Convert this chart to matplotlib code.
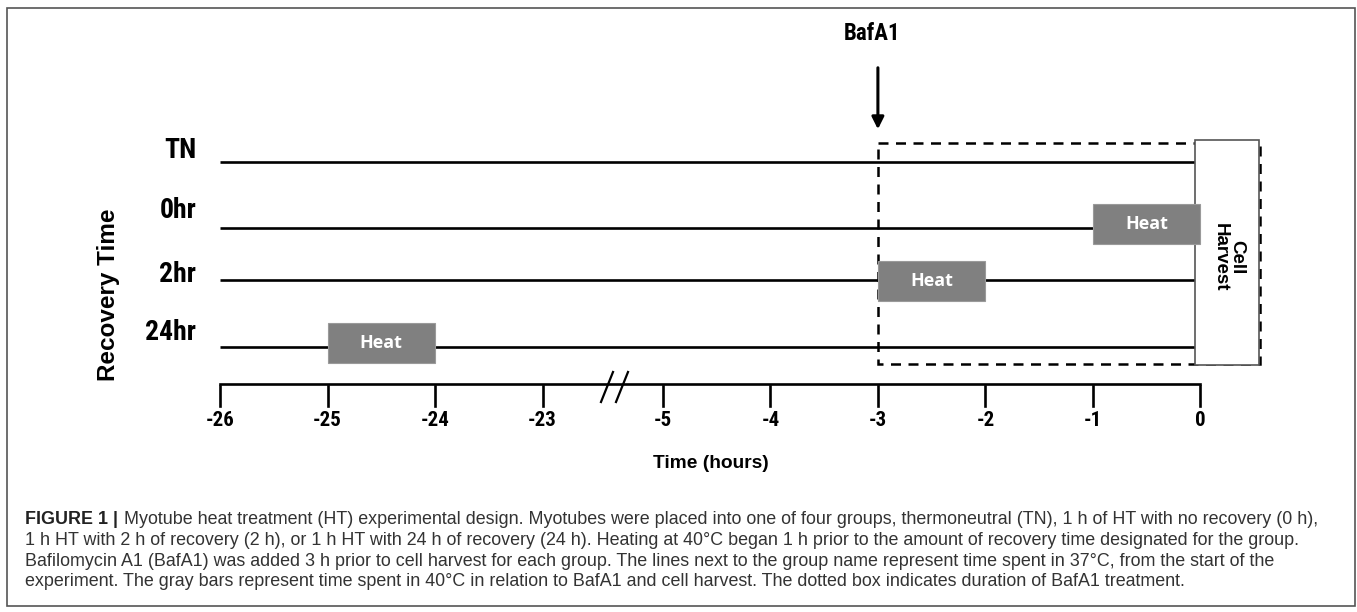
import matplotlib
matplotlib.use("Agg")
import matplotlib.pyplot as plt
from matplotlib.patches import Rectangle

# data
groups = ["TN", "0hr", "2hr", "24hr"]
heat_start = [None, -1, -3, -25]      # hours, heat lasts 1 h
heat_len = 1
tick_hours = [-26, -25, -24, -23, -5, -4, -3, -2, -1, 0]
bafa1_time = -3
harvest_time = 0
caption_lines = [
    "Myotube heat treatment (HT) experimental design. Myotubes were placed into one of four groups, thermoneutral (TN), 1 h of HT with no recovery (0 h),",
    "1 h HT with 2 h of recovery (2 h), or 1 h HT with 24 h of recovery (24 h). Heating at 40\u00b0C began 1 h prior to the amount of recovery time designated for the group.",
    "Bafilomycin A1 (BafA1) was added 3 h prior to cell harvest for each group. The lines next to the group name represent time spent in 37\u00b0C, from the start of the",
    "experiment. The gray bars represent time spent in 40\u00b0C in relation to BafA1 and cell harvest. The dotted box indicates duration of BafA1 treatment.",
]

# layout (y in pixels from top)
row_y = [162, 228, 280, 347]
label_y = [151, 210, 275, 332]
axis_y = 384
break_after = 3      # axis is broken between -23 and -5
gap = 0.12
px_per_slot = 107.5
x0_px = 220

narrow = ["Roboto Condensed", "DejaVu Sans"]
arial = ["Liberation Sans", "DejaVu Sans"]


def hx(h):
    i = tick_hours.index(h)
    return i + (gap if i > break_after else 0)


W, H = 1357, 612
fig = plt.figure(figsize=(W / 100, H / 100), dpi=100)
ax = fig.add_axes([0, 0, 1, 1])
ax.set_xlim(-x0_px / px_per_slot, (W - x0_px) / px_per_slot)
ax.set_ylim(H, 0)
ax.axis("off")
s = 1 / px_per_slot  # one pixel in x units

# outer frame
ax.add_patch(Rectangle((-213 * s, 8), 1348 * s, 598, fill=False, ec="#555555", lw=1.2))

x_start, x_end = hx(tick_hours[0]), hx(harvest_time)

# BafA1 dashed box and cell harvest box
bx = hx(bafa1_time)
ax.add_patch(Rectangle((bx, 143), x_end - bx + 60 * s, 221, fill=False, ec="black",
                       lw=1.8, ls=(0, (4, 3)), zorder=2))
ax.add_patch(Rectangle((x_end - 5 * s, 140), 64 * s, 225, fc="white", ec="#555555",
                       lw=1.2, zorder=3))
ax.text(x_end + 28 * s, 257, "Cell\nHarvest", rotation=-90, ha="center", va="center",
        fontsize=13.5, fontweight="bold", family=arial, linespacing=0.95, zorder=4)

# group lines, labels and heat bars
for g, y, ly, hs in zip(groups, row_y, label_y, heat_start):
    ax.plot([x_start, x_end], [y, y], color="black", lw=1.9, solid_capstyle="butt", zorder=1)
    ax.text(x_start - 24 * s, ly, g, ha="right", va="center", fontsize=20,
            fontweight="bold", family=narrow)
    if hs is not None:
        a, b = hx(hs), hx(hs + heat_len)
        yc = y - 4 if g != "2hr" else y + 1
        ax.add_patch(Rectangle((a, yc - 20), b - a, 40, fc="#808080", ec="#9a9a9a",
                               lw=0.8, zorder=5))
        ax.text((a + b) / 2, yc, "Heat", color="white", ha="center", va="center",
                fontsize=13, fontweight="bold", family=["Open Sans", "DejaVu Sans"], zorder=6)

ax.text(-112 * s, 295, "Recovery Time", rotation=90, ha="center", va="center",
        fontsize=17.5, fontweight="bold", family=arial)

# time axis
ax.plot([x_start, x_end], [axis_y, axis_y], color="black", lw=1.9, zorder=1)
for h in tick_hours:
    ax.plot([hx(h), hx(h)], [axis_y + 2, axis_y + 22], color="black", lw=1.9)
    ax.text(hx(h), axis_y + 36, str(h), ha="center", va="center", fontsize=15,
            fontweight="bold", family=narrow)
bk = break_after + 0.6
for d in (0, 15 * s):
    ax.plot([bk + d - 6 * s, bk + d + 6 * s], [axis_y + 18, axis_y - 12], color="black", lw=1.6)
ax.text(hx(-5) + 48 * s, 464, "Time (hours)", ha="center", va="center", fontsize=13.8,
        fontweight="bold", family=arial)

# BafA1 arrow
ax.annotate("", xy=(bx, 132), xytext=(bx, 65),
            arrowprops=dict(arrowstyle="-|>", color="black", lw=2.2, mutation_scale=18))
ax.text(bx - 6 * s, 34, "BafA1", ha="center", va="center", fontsize=16.5,
        fontweight="bold", family=narrow)

# caption
cap_x = -195 * s
cap_size = 12.9
head = ax.text(cap_x, 520, "FIGURE 1 |", ha="left", va="center", fontsize=cap_size,
               fontweight="bold", family=arial, color="#222222")
ax.annotate(caption_lines[0], xy=(1, 0.5), xycoords=head, xytext=(4, 0),
            textcoords="offset points", ha="left", va="center",
            fontsize=cap_size, family=arial, color="#333333")
for k, line in enumerate(caption_lines[1:], start=1):
    ax.text(cap_x, 520 + 20.5 * k, line, ha="left", va="center", fontsize=cap_size,
            family=arial, color="#333333")

fig.savefig("out.png", dpi=100)
